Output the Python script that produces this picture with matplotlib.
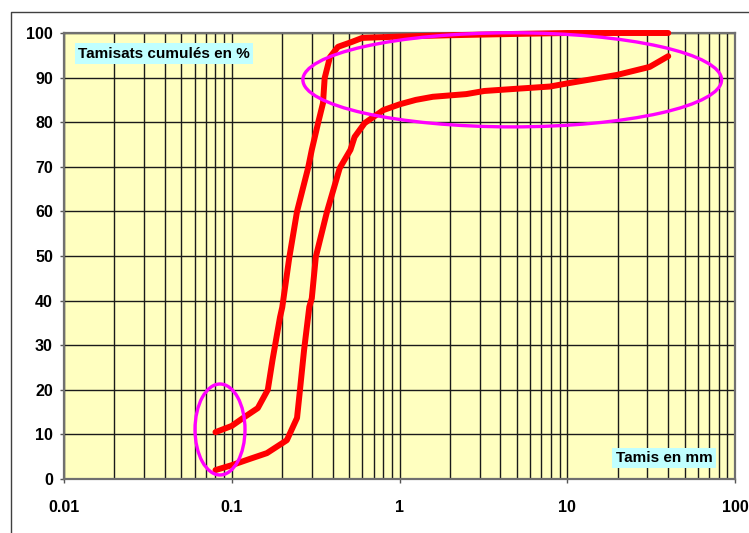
import matplotlib.pyplot as plt
from matplotlib.patches import Ellipse
from matplotlib.lines import Line2D
from matplotlib.ticker import LogLocator, FixedLocator, FixedFormatter

# courbe 1 : tamis (mm) / tamisats cumulés (%)
tamis_1 = [0.08, 0.1, 0.117, 0.143, 0.164, 0.175, 0.194, 0.2, 0.22, 0.245,
           0.285, 0.30, 0.327, 0.35, 0.358, 0.385, 0.43, 0.52, 0.6, 1.0,
           2.0, 5.0, 10.0, 20.0, 40.0]
cumul_1 = [10.5, 11.9, 13.7, 15.9, 20.0, 26.7, 36.3, 38.5, 49.5, 60.0,
           69.7, 73.8, 79.8, 84.3, 89.9, 94.6, 96.9, 98.0, 98.9, 99.2,
           99.5, 99.8, 100.0, 100.0, 100.0]

# courbe 2
tamis_2 = [0.08, 0.1, 0.128, 0.162, 0.213, 0.245, 0.254, 0.27, 0.29, 0.30,
           0.317, 0.37, 0.44, 0.51, 0.54, 0.62, 0.80, 1.0, 1.25, 1.58,
           2.5, 3.2, 5.0, 7.9, 10.0, 19.8, 31.0, 40.0]
cumul_2 = [2.0, 3.1, 4.5, 5.8, 8.7, 13.7, 19.3, 29.0, 38.6, 40.5,
           49.8, 60.0, 69.7, 73.8, 76.7, 79.8, 82.7, 84.0, 85.0, 85.7,
           86.3, 87.0, 87.5, 88.0, 88.7, 90.6, 92.4, 94.8]

x_ticks = [0.01, 0.1, 1, 10, 100]
x_labels = ["0.01", "0.1", "1", "10", "100"]
y_ticks = list(range(0, 101, 10))

fig = plt.figure(figsize=(7.49, 5.33), dpi=100)
ax = fig.add_axes([64 / 749, 1 - 479 / 533, 671 / 749, 446 / 533])
ax.set_facecolor("#FFFFC0")

ax.set_xscale("log")
ax.set_xlim(0.01, 100)
ax.set_ylim(0, 100)

ax.xaxis.set_major_locator(FixedLocator(x_ticks))
ax.xaxis.set_major_formatter(FixedFormatter(x_labels))
ax.xaxis.set_minor_locator(LogLocator(base=10, subs=range(2, 10)))
ax.set_yticks(y_ticks)

ax.grid(True, which="major", color="#1a1a1a", linewidth=1.0)
ax.grid(True, which="minor", axis="x", color="#1a1a1a", linewidth=1.0)
ax.set_axisbelow(True)

ax.tick_params(axis="x", which="major", length=3, width=1, color="#555555",
               pad=12, labelsize=11.5)
ax.tick_params(axis="x", which="minor", length=0)
ax.tick_params(axis="y", length=3, width=1, color="#555555", pad=5,
               labelsize=11.5)
for lab in ax.get_xticklabels() + ax.get_yticklabels():
    lab.set_fontfamily("Liberation Sans")
    lab.set_fontweight("bold")

for sp in ax.spines.values():
    sp.set_color("#707070")
    sp.set_linewidth(1.6)

ax.plot(tamis_1, cumul_1, color="#FF0000", linewidth=4.3,
        solid_capstyle="round", solid_joinstyle="round", clip_on=False, zorder=3)
ax.plot(tamis_2, cumul_2, color="#FF0000", linewidth=4.3,
        solid_capstyle="round", solid_joinstyle="round", clip_on=False, zorder=3)

# entourages
ax.add_patch(Ellipse((0.668, 0.895), 0.624, 0.211, transform=ax.transAxes,
                     fill=False, edgecolor="#FF00FF", linewidth=2.4,
                     clip_on=False, zorder=4))
ax.add_patch(Ellipse((0.2325, 0.111), 0.0745, 0.204, transform=ax.transAxes,
                     fill=False, edgecolor="#FF00FF", linewidth=2.4,
                     clip_on=False, zorder=4))

box = dict(boxstyle="square,pad=0.22", facecolor="#C0FFFF", edgecolor="none")
ax.text(0.021, 0.954, "Tamisats cumulés en %", transform=ax.transAxes,
        ha="left", va="center", fontsize=11, fontweight="bold",
        family="Liberation Sans", bbox=box, zorder=5)
ax.text(0.822, 0.047, "Tamis en mm", transform=ax.transAxes,
        ha="left", va="center", fontsize=11, fontweight="bold",
        family="Liberation Sans", bbox=box, zorder=5)

# cadre extérieur
fig.add_artist(Line2D([10.5 / 749, 10.5 / 749, 1.0], [0.0, 1 - 12 / 533, 1 - 12 / 533],
                      transform=fig.transFigure, color="#404040", linewidth=1.0))

fig.savefig("out.png", dpi=100)
